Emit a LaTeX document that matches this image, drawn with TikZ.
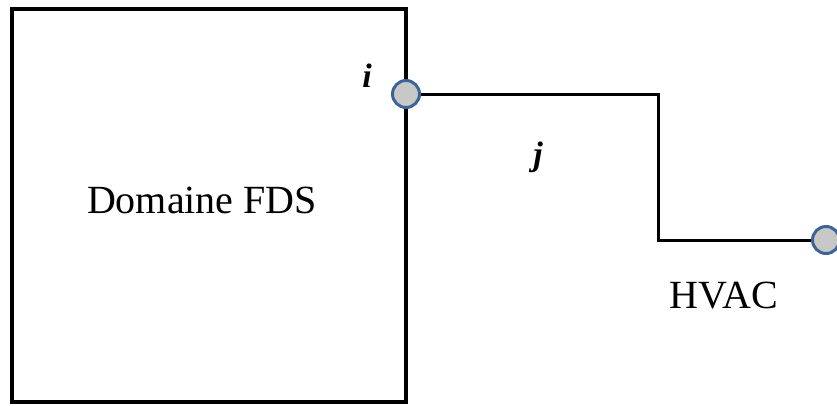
\documentclass[tikz,border=0pt]{standalone}
\usepackage{fontspec}
\setmainfont{Liberation Serif}
\usetikzlibrary{positioning}
\definecolor{portedge}{RGB}{60,100,150}
\definecolor{portfill}{RGB}{200,200,200}
\tikzset{
  fdsbox/.style={draw=black, line width=4pt, minimum width=394pt, minimum height=393pt,
    inner sep=0pt, font=\fontsize{39}{44}\selectfont},
  port/.style={circle, draw=portedge, fill=portfill, line width=3pt, minimum size=27pt, inner sep=0pt},
  duct/.style={draw=black, line width=3pt},
  lbl/.style={font=\fontsize{40}{45}\selectfont},
  idx/.style={font=\fontsize{34}{40}\selectfont\bfseries\itshape}
}
\begin{document}
\begin{tikzpicture}[x=1pt, y=-1pt]
  \useasboundingbox (0,0) rectangle (837,405);
  \node[fdsbox] (fds) at (209,205.5) {};
  \node[lbl] (fdslbl) at (202,200) {Domaine FDS};
  \coordinate (bend1) at (658,94);
  \coordinate (bend2) at (658,240);
  \draw[duct] (406,94) coordinate (ijoin) -- (bend1) -- (bend2) -- (826,240) coordinate (ojoin);
  \node[port] (pi) at (ijoin) {};
  \node[port] (po) at (ojoin) {};
  \node[idx] (li) at (367,76) {i};
  \node[idx] (lj) at (538,157) {j};
  \node[lbl] (hvac) at (724,296) {HVAC};
\end{tikzpicture}
\end{document}
